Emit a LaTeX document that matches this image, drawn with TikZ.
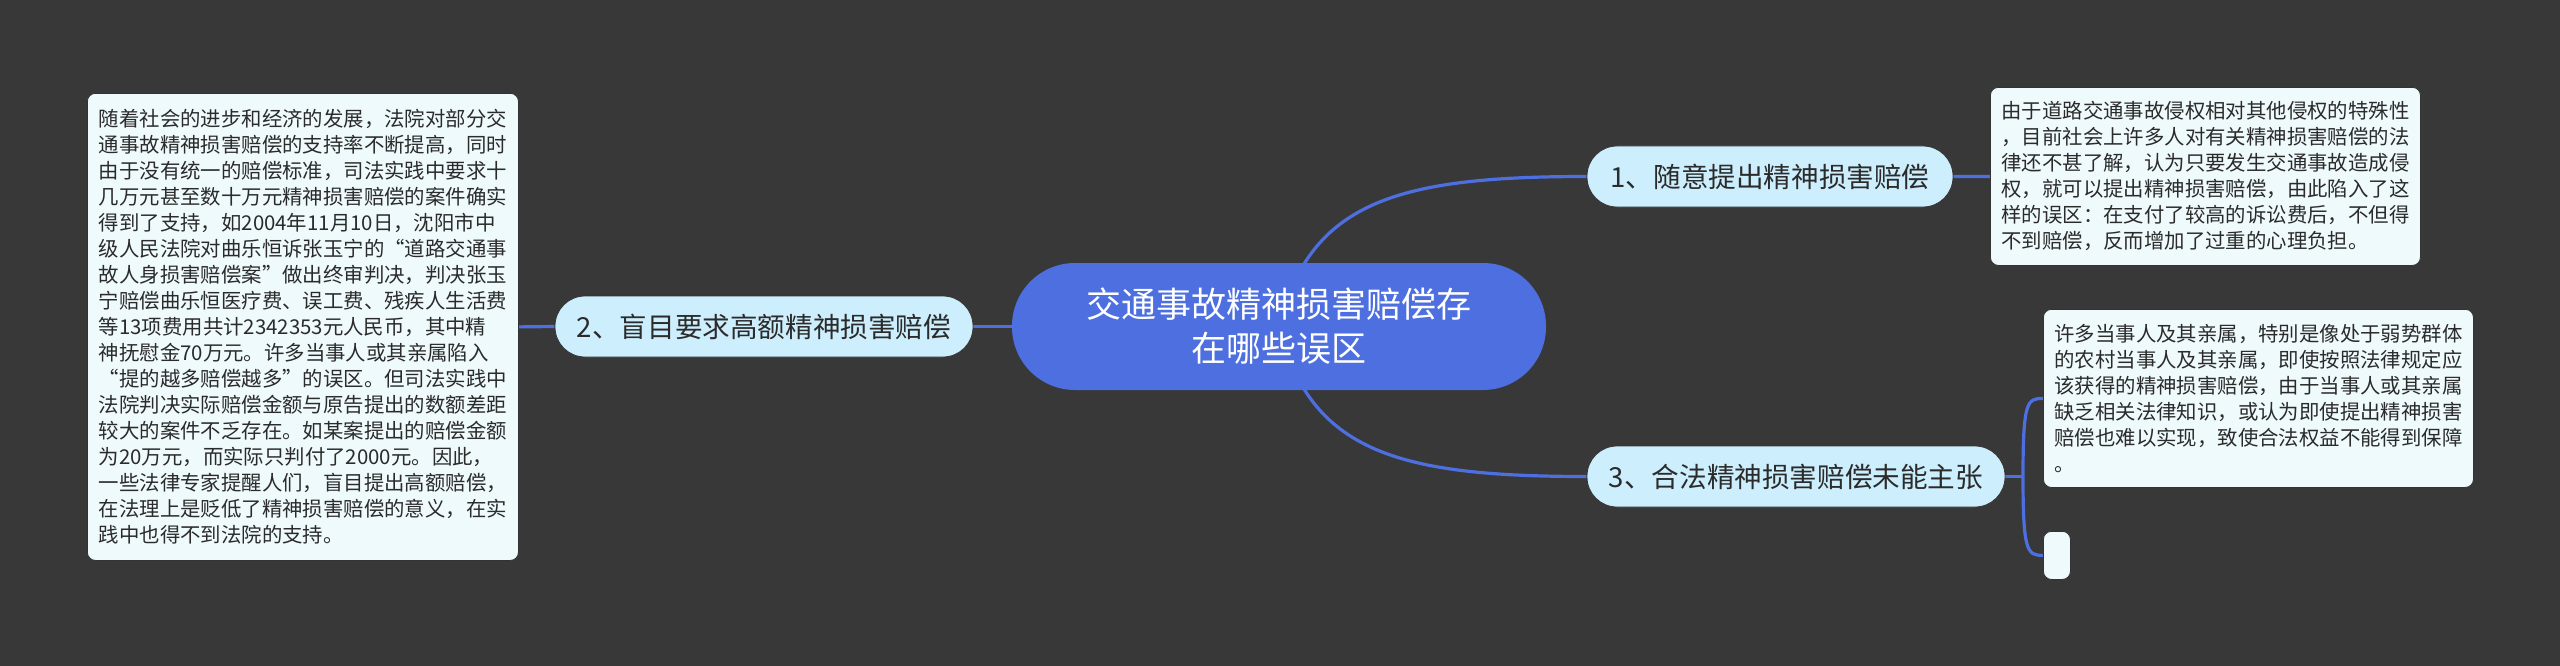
\documentclass[tikz,border=0pt]{standalone}
\usepackage{fontspec}
\usepackage{tikz}
\usetikzlibrary{backgrounds}
\newfontfamily\cjk{Noto Sans CJK SC}
\definecolor{mmbg}{HTML}{393838}
\definecolor{mmblue}{HTML}{4D6FE0}
\definecolor{mmtopic}{HTML}{CDEFFD}
\definecolor{mmnote}{HTML}{EFFAFD}
\definecolor{mmtext}{HTML}{2B2B2B}

\begin{document}
\begin{tikzpicture}[
    x=1pt,
    y=-1pt,
    rootnode/.style={rectangle, rounded corners=63pt, fill=mmblue, text=white, align=center,
      minimum width=534pt, minimum height=127pt, inner sep=0pt,
      font=\cjk\fontsize{35pt}{44pt}\selectfont},
    topicnode/.style={rectangle, rounded corners=30pt, fill=mmtopic, draw=black!80, line width=0.8pt,
      text=mmtext, minimum height=61pt, inner sep=0pt,
      font=\cjk\fontsize{27.6pt}{34pt}\selectfont},
    notebox/.style={rectangle, rounded corners=8pt, fill=mmnote, draw=black!80, line width=0.8pt,
      text=mmtext, align=left, inner sep=0pt, anchor=north west,
      font=\cjk\fontsize{20.4pt}{26pt}\selectfont},
    link/.style={draw=mmblue, line width=3.2pt}
  ]
    \useasboundingbox (0,0) rectangle (2560,666);

    % central topic
    \node[rootnode] (root) at (1279,326.5) {交通事故精神损害赔偿存\\在哪些误区};

    % branches
    \node[topicnode, minimum width=366pt] (t1) at (1770,176.5) {1、随意提出精神损害赔偿};
    \node[topicnode, minimum width=418pt] (t2) at (764,326.5) {2、盲目要求高额精神损害赔偿};
    \node[topicnode, minimum width=418pt] (t3) at (1796,476.5) {3、合法精神损害赔偿未能主张};

    % notes
    \node[notebox, minimum width=430pt, minimum height=178pt] (note1) at (1990,87) {%
      由于道路交通事故侵权相对其他侵权的特殊性\\
      ，目前社会上许多人对有关精神损害赔偿的法\\
      律还不甚了解，认为只要发生交通事故造成侵\\
      权，就可以提出精神损害赔偿，由此陷入了这\\
      样的误区：在支付了较高的诉讼费后，不但得\\
      不到赔偿，反而增加了过重的心理负担。};
    \node[notebox, minimum width=431pt, minimum height=467pt] (note2) at (87,93) {%
      随着社会的进步和经济的发展，法院对部分交\\
      通事故精神损害赔偿的支持率不断提高，同时\\
      由于没有统一的赔偿标准，司法实践中要求十\\
      几万元甚至数十万元精神损害赔偿的案件确实\\
      得到了支持，如2004年11月10日，沈阳市中\\
      级人民法院对曲乐恒诉张玉宁的“道路交通事\\
      故人身损害赔偿案”做出终审判决，判决张玉\\
      宁赔偿曲乐恒医疗费、误工费、残疾人生活费\\
      等13项费用共计2342353元人民币，其中精\\
      神抚慰金70万元。许多当事人或其亲属陷入\\
      “提的越多赔偿越多”的误区。但司法实践中\\
      法院判决实际赔偿金额与原告提出的数额差距\\
      较大的案件不乏存在。如某案提出的赔偿金额\\
      为20万元，而实际只判付了2000元。因此，\\
      一些法律专家提醒人们，盲目提出高额赔偿，\\
      在法理上是贬低了精神损害赔偿的意义，在实\\
      践中也得不到法院的支持。};
    \node[notebox, minimum width=430pt, minimum height=178pt] (note3) at (2043,309) {%
      许多当事人及其亲属，特别是像处于弱势群体\\
      的农村当事人及其亲属，即使按照法律规定应\\
      该获得的精神损害赔偿，由于当事人或其亲属\\
      缺乏相关法律知识，或认为即使提出精神损害\\
      赔偿也难以实现，致使合法权益不能得到保障\\
      。};
    \node[notebox, minimum width=27pt, minimum height=48pt] (blank) at (2043,531) {};

    \coordinate (fork) at (2023,476.5);

    \begin{scope}[on background layer]
      \fill[mmbg] (0,0) rectangle (2560,666);
      \draw[link] (root.center) .. controls +(31,-126) and +(-187,0) .. (t1.west);
      \draw[link] (root.center) .. controls +(31,126) and +(-187,0) .. (t3.west);
      \draw[link] (root.west) -- (t2.east);
      \draw[link] (t2.west) -- (note2.east);
      \draw[link] (t1.east) -- (note1.west);
      \draw[link] (t3.east) -- (fork);
      \draw[link] (fork) .. controls +(0,-75) and +(-16,0) .. (note3.west);
      \draw[link] (fork) .. controls +(0,75) and +(-16,0) .. (blank.west);
    \end{scope}
  \end{tikzpicture}
\end{document}
